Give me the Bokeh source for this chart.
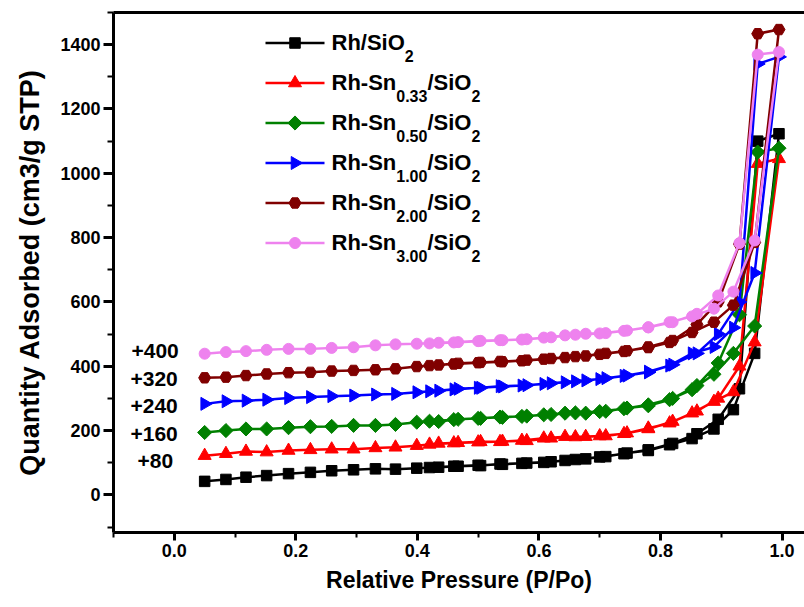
import numpy as np
from bokeh.plotting import figure
from bokeh.models import (Range1d, LinearAxis, SingleIntervalTicker, FixedTicker, Label,
                          PrintfTickFormatter)
from bokeh.embed import file_html
from bokeh.resources import INLINE

# ---------------- data (values as plotted, offsets already included) ----------------
p_ads = [0.05, 0.085, 0.118, 0.152, 0.188, 0.224, 0.259, 0.295, 0.331, 0.364, 0.399,
         0.435, 0.467, 0.504, 0.536, 0.572, 0.608, 0.643, 0.677, 0.71, 0.745, 0.78,
         0.815, 0.852, 0.888, 0.92, 0.955, 0.995]
p_des = [0.96, 0.93, 0.895, 0.86, 0.82, 0.78, 0.74, 0.70, 0.66, 0.62, 0.58, 0.54,
         0.50, 0.46, 0.42]

rh_ads = [42, 48, 55, 60, 66, 70, 75, 78, 81, 80, 83, 86, 89, 91, 96, 98, 101, 107,
          112, 119, 130, 138, 156, 175, 205, 265, 440, 1123]
rh_des = [1100, 330, 235, 190, 160, 140, 128, 118, 110, 103, 99, 95, 92, 89, 85]

sn033_ads = [122, 128, 135, 133, 138, 140, 142, 142, 146, 148, 153, 160, 162, 165, 165,
             169, 176, 181, 181, 183, 192, 207, 223, 254, 290, 320, 475, 1045]
sn033_des = [1030, 400, 300, 260, 228, 205, 190, 183, 180, 176, 168, 166, 164, 161, 157]

sn050_ads = [194, 200, 205, 205, 209, 212, 213, 216, 216, 219, 226, 228, 235, 238, 242,
             244, 249, 254, 254, 260, 270, 277, 296, 327, 375, 440, 525, 1078]
sn050_des = [1066, 560, 410, 340, 300, 280, 268, 259, 255, 250, 245, 241, 238, 234, 229]

sn100_ads = [283, 291, 293, 296, 301, 304, 307, 309, 312, 314, 319, 324, 330, 333, 338,
             340, 345, 350, 356, 363, 371, 381, 402, 440, 460, 520, 690, 1362]
sn100_des = [1340, 600, 500, 440, 405, 383, 370, 360, 353, 347, 341, 337, 333, 328, 322]

sn200_ads = [364, 366, 371, 376, 380, 381, 385, 387, 389, 392, 399, 404, 409, 412, 415,
             417, 422, 427, 432, 440, 448, 458, 474, 505, 537, 590, 785, 1447]
sn200_des = [1434, 780, 600, 530, 480, 460, 446, 437, 430, 424, 419, 414, 411, 407, 402]

sn300_ads = [439, 444, 447, 451, 454, 454, 457, 459, 465, 468, 470, 473, 475, 479, 481,
             483, 489, 496, 501, 503, 511, 521, 537, 555, 579, 632, 791, 1377]
sn300_des = [1369, 783, 620, 563, 537, 521, 510, 502, 498, 490, 484, 481, 478, 474, 471]

legend_main = ["Rh/SiO", "Rh-Sn", "Rh-Sn", "Rh-Sn", "Rh-Sn", "Rh-Sn"]
legend_sub = [None, "0.33", "0.50", "1.00", "2.00", "3.00"]
offset_labels = ["+400", "+320", "+240", "+160", "+80"]

# ---------------- styles ----------------
FONT = "Liberation Sans"
colors = ["#000000", "#FF0000", "#008000", "#0000FF", "#800000", "#EE82EE"]
markers = [("square", 10.5, 0.0), ("triangle", 13, 0.0), ("square", 10, np.pi / 4),
           ("triangle", 13, -np.pi / 2), ("hex", 12, 0.0), ("circle", 11, 0.0)]
ads_all = [rh_ads, sn033_ads, sn050_ads, sn100_ads, sn200_ads, sn300_ads]
des_all = [rh_des, sn033_des, sn050_des, sn100_des, sn200_des, sn300_des]

W, H = 804, 607
BL, BR, BT, BB = 113, 0, 12, 75
X0, X1 = -0.1, 1.037
Y0, Y1 = -117, 1500

p = figure(width=W, height=H, x_range=Range1d(X0, X1), y_range=Range1d(Y0, Y1),
           output_backend="svg", toolbar_location=None,
           min_border_left=BL, min_border_right=BR, min_border_top=BT, min_border_bottom=BB,
           background_fill_color="white", border_fill_color="white", outline_line_color=None)
p.grid.visible = False

FW = W - BL - BR
FH = H - BT - BB


def px2x(px):
    return X0 + (px - BL) * (X1 - X0) / FW


def px2y(py):
    return Y1 - (py - BT) * (Y1 - Y0) / FH


for ax in (p.xaxis[0], p.yaxis[0]):
    ax.axis_line_width = 3
    ax.major_tick_line_width = 3
    ax.minor_tick_line_width = 2
    ax.major_tick_in = 0
    ax.minor_tick_in = 0
    ax.major_label_text_font = FONT
    ax.major_label_text_font_style = "bold"
    ax.major_label_text_font_size = "18px"
    ax.major_label_text_color = "black"
    ax.axis_label_text_font = FONT
    ax.axis_label_text_font_style = "bold"
    ax.axis_label_text_color = "black"

xa = p.xaxis[0]
xa.ticker = SingleIntervalTicker(interval=0.2, num_minor_ticks=2)
xa.formatter = PrintfTickFormatter(format="%.1f")
xa.major_tick_out = 8
xa.minor_tick_out = 5
xa.major_label_standoff = 3
xa.axis_label = "Relative Pressure (P/Po)"
xa.axis_label_text_font_size = "23px"
xa.axis_label_standoff = 7

ya = p.yaxis[0]
ya.ticker = SingleIntervalTicker(interval=200, num_minor_ticks=2)
ya.major_tick_out = 10
ya.minor_tick_out = 6
ya.major_label_standoff = 3
ya.axis_label = "Quantity Adsorbed (cm3/g STP)"
ya.axis_label_text_font_size = "27px"
ya.axis_label_standoff = 12

top = LinearAxis(ticker=FixedTicker(ticks=[]), axis_line_width=3,
                 major_tick_line_color=None, minor_tick_line_color=None,
                 major_label_text_font_size="0px")
p.add_layout(top, "above")

# ---------------- series ----------------
for i in range(6):
    xs = p_ads + p_des
    ys = ads_all[i] + des_all[i]
    mk, sz, ang = markers[i]
    p.line(xs, ys, line_color=colors[i], line_width=2.5)
    p.scatter(xs, ys, marker=mk, size=sz, angle=ang, fill_color=colors[i],
              line_color=colors[i], line_width=1)

# ---------------- legend (drawn manually to allow subscripts) ----------------
CW = {'R': .722, 'h': .611, '-': .333, 'S': .667, 'n': .611, '/': .278, 'i': .278,
      'O': .778, '.': .278}


def tw(s, size):
    return sum(CW.get(c, .556) for c in s) * size


def add_text(px, py, text, size):
    p.add_layout(Label(x=px2x(px), y=px2y(py), text=text, text_font=FONT,
                       text_font_style="bold", text_font_size=f"{size}px",
                       text_align="left", text_baseline="middle",
                       text_color="black"))


MAIN, SUB = 22, 16
row_y = [42.5 + 40 * k for k in range(6)]
for i in range(6):
    ry = row_y[i]
    mk, sz, ang = markers[i]
    p.line([px2x(265), px2x(324)], [px2y(ry), px2y(ry)], line_color=colors[i], line_width=2.5)
    p.scatter([px2x(294.5)], [px2y(ry)], marker=mk, size=sz, angle=ang,
              fill_color=colors[i], line_color=colors[i])
    mc = ry - 1
    sc = ry + 13
    cx = 331
    pieces = [(legend_main[i], MAIN, mc)]
    if legend_sub[i] is not None:
        pieces += [(legend_sub[i], SUB, sc), ("/SiO", MAIN, mc)]
    pieces += [("2", SUB, sc)]
    for txt, fs, cy in pieces:
        add_text(cx, cy, txt, fs)
        cx += tw(txt, fs)

# offset annotations
off_y = [350, 378, 405, 433, 460]
off_x = [131, 130, 130, 130, 137]
for t, oy, ox in zip(offset_labels, off_y, off_x):
    add_text(ox, oy, t, 21)

open("out.html", "w").write(file_html(p, INLINE))
